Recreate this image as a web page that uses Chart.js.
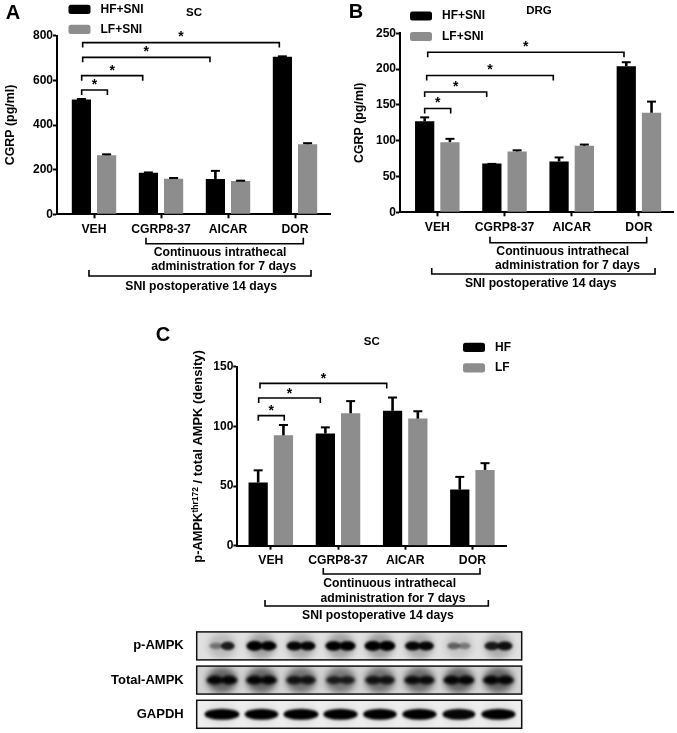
<!DOCTYPE html>
<html>
<head>
<meta charset="utf-8">
<script src="https://cdn.jsdelivr.net/npm/chart.js@4"></script>
<style>
html,body{margin:0;padding:0;background:#fff;width:677px;height:733px;overflow:hidden}
canvas{position:absolute;display:block}
</style>
</head>
<body>
<canvas id="panelA" style="left:0;top:0" width="340" height="300"></canvas>
<canvas id="panelB" style="left:340px;top:0" width="337" height="300"></canvas>
<canvas id="panelC" style="left:130px;top:320px" width="420" height="305"></canvas>
<canvas id="blots" style="left:110px;top:625px" width="420" height="108"></canvas>
<script>
// ---------- data ----------
const categories = ['VEH', 'CGRP8-37', 'AICAR', 'DOR'];

const scHF    = [514, 186, 158, 706];
const scHFTop = [521, 192, 199, 712];
const scLF    = [265, 159, 149, 314];
const scLFTop = [273, 167, 155, 323];

const drgHF    = [127, 68, 71, 204];
const drgHFTop = [134, 69, 78, 211];
const drgLF    = [98, 85, 93, 139];
const drgLFTop = [104, 88, 96, 156];

const ampkHF    = [53, 94, 113, 47];
const ampkHFTop = [64, 100, 125, 58.5];
const ampkLF    = [92.5, 111, 106.5, 63.5];
const ampkLFTop = [102, 122, 113.5, 70];

const blotRows = ['p-AMPK', 'Total-AMPK', 'GAPDH'];
// band darkness (left half, right half of each lane)
const pAmpkLeft   = [0.35, 1.00, 0.85, 0.95, 1.00, 0.85, 0.45, 0.75];
const pAmpkRight  = [0.75, 0.90, 0.85, 0.95, 1.00, 0.85, 0.35, 0.80];
const totalLeft   = [0.85, 0.85, 0.75, 0.70, 0.75, 0.80, 0.85, 0.85];
const totalRight  = [0.85, 0.85, 0.75, 0.70, 0.75, 0.80, 0.85, 0.85];
const gapdhLeft   = [1.00, 0.90, 1.00, 0.95, 0.90, 0.95, 0.85, 0.95];
const gapdhRight  = [1.00, 0.90, 1.00, 0.95, 0.90, 0.95, 0.85, 0.95];

// [from group, to group, axis value of the bracket]
const scSig   = [[-0.184, 0.2, 557], [-0.184, 0.727, 621], [-0.169, 1.731, 703], [-0.169, 2.766, 769]];
const drgSig  = [[-0.188, 0.199, 145], [-0.188, 0.735, 168], [-0.158, 1.726, 191], [-0.143, 2.778, 223.5]];
const ampkSig = [[-0.186, 0.2, 109], [-0.18, 0.737, 123.8], [-0.161, 1.725, 136]];

const treatLines = ['Continuous intrathecal', 'administration for 7 days'];
const surgeryLine = 'SNI postoperative 14 days';

// ---------- shared styles ----------
const BLACK = '#000000', GREY = '#8d8d8d';
const FONT = '"Liberation Sans", Arial, sans-serif';
const boldFont = (s) => ({ family: FONT, size: s, weight: 'bold' });

function pill(ctx, x, y, w, h) {
  ctx.beginPath();
  ctx.roundRect(x, y, w, h, 2.5);
  ctx.fill();
}
function text(ctx, s, x, y, size, align) {
  ctx.font = 'bold ' + size + 'px ' + FONT;
  ctx.fillStyle = '#000';
  ctx.textAlign = align || 'center';
  ctx.textBaseline = 'middle';
  ctx.fillText(s, x, y);
}
function bracket(ctx, x1, x2, y, leg) {
  ctx.strokeStyle = '#000';
  ctx.lineWidth = 1.6;
  ctx.lineCap = 'butt';
  ctx.lineJoin = 'miter';
  ctx.beginPath();
  ctx.moveTo(x1, y + leg);
  ctx.lineTo(x1, y);
  ctx.lineTo(x2, y);
  ctx.lineTo(x2, y + leg);
  ctx.stroke();
}

const errorBars = {
  id: 'errorBars',
  afterDatasetsDraw(chart) {
    const ctx = chart.ctx, ys = chart.scales.y;
    chart.data.datasets.forEach((ds, i) => {
      chart.getDatasetMeta(i).data.forEach((bar, j) => {
        const top = ys.getPixelForValue(ds.upper[j]);
        ctx.save();
        ctx.strokeStyle = '#000';
        ctx.lineWidth = 2.6;
        ctx.beginPath();
        ctx.moveTo(bar.x, bar.y);
        ctx.lineTo(bar.x, top + 1);
        ctx.stroke();
        ctx.lineWidth = 2;
        ctx.beginPath();
        ctx.moveTo(bar.x - 4.5, top + 1);
        ctx.lineTo(bar.x + 4.5, top + 1);
        ctx.stroke();
        ctx.restore();
      });
    });
  }
};

const annotations = {
  id: 'annotations',
  afterDraw(chart, args, o) {
    const ctx = chart.ctx, xs = chart.scales.x, ys = chart.scales.y, b = chart.chartArea.bottom;
    const X = (v) => xs.getPixelForValue(v);
    ctx.save();
    text(ctx, o.letter, o.letterAt[0], o.letterAt[1], 20);
    text(ctx, o.title, o.titleAt[0], o.titleAt[1], 11.5);
    chart.data.datasets.forEach((ds, i) => {
      const l = o.legend;
      const cy = l.y[i];
      ctx.fillStyle = ds.backgroundColor;
      pill(ctx, l.x, cy - 4.6, 22, 9.2);
      text(ctx, ds.label, l.x + 32, cy, 12, 'left');
    });
    o.sig.forEach((s, i) => {
      const y = ys.getPixelForValue(s[2]);
      bracket(ctx, X(s[0]), X(s[1]), y, 5);
      text(ctx, '*', (X(s[0]) + X(s[1])) / 2, y - o.starGap, 14);
    });
    const g = o.under;
    bracket(ctx, X(g.treat[0]), X(g.treat[1]), b + g.treat[2], -6);
    bracket(ctx, X(g.sni[0]), X(g.sni[1]), b + g.sni[2], -6);
    text(ctx, treatLines[0], X(g.line1[0]), b + g.line1[1], 12.2);
    text(ctx, treatLines[1], X(g.line2[0]), b + g.line2[1], 12.2);
    text(ctx, surgeryLine, X(g.line3[0]), b + g.line3[1], 12.2);
    if (o.richTitle) {
      const t = o.richTitle;
      ctx.translate(t.x, t.y);
      ctx.rotate(-Math.PI / 2);
      ctx.textBaseline = 'alphabetic';
      ctx.textAlign = 'left';
      ctx.fillStyle = '#000';
      ctx.font = 'bold 12.9px ' + FONT;
      const a = 'p-AMPK', c = ' / total AMPK (density)';
      const wa = ctx.measureText(a).width, wc = ctx.measureText(c).width;
      ctx.font = 'bold 8.5px ' + FONT;
      const wb = ctx.measureText('thr172').width;
      let px = -(wa + wb + wc) / 2;
      ctx.font = 'bold 12.9px ' + FONT;
      ctx.fillText(a, px, 4); px += wa;
      ctx.font = 'bold 8.5px ' + FONT;
      ctx.fillText('thr172', px, 0); px += wb;
      ctx.font = 'bold 12.9px ' + FONT;
      ctx.fillText(c, px, 4);
    }
    ctx.restore();
  }
};

function barPanel(id, c) {
  const box = c.box, p = c.plot;
  const pad = { left: 0, top: p.top - box.y, right: box.x + box.w - p.right, bottom: 0 };
  return new Chart(document.getElementById(id), {
    type: 'bar',
    data: {
      datasets: [
        { label: c.names[0], data: c.hf.map((v, i) => ({ x: i, y: v })), upper: c.hfTop, backgroundColor: BLACK, categoryPercentage: 0.752, barPercentage: 0.762, borderWidth: 0 },
        { label: c.names[1], data: c.lf.map((v, i) => ({ x: i, y: v })), upper: c.lfTop, backgroundColor: GREY, categoryPercentage: 0.752, barPercentage: 0.762, borderWidth: 0 }
      ]
    },
    plugins: [errorBars, annotations],
    options: {
      responsive: false,
      animation: false,
      events: [],
      layout: { padding: pad },
      plugins: { legend: { display: false }, tooltip: { enabled: false }, annotations: c.notes },
      scales: {
        x: {
          type: 'linear',
          bounds: 'data',
          offset: false,
          min: (p.left - c.c0) / c.d,
          max: (p.right - c.c0) / c.d,
          afterBuildTicks: (s) => { s.ticks = categories.map((_, i) => ({ value: i })); },
          afterFit: (s) => { s.height = box.y + box.h - p.bottom; },
          border: { color: '#000', width: 2 },
          grid: { offset: false, drawOnChartArea: false, drawTicks: true, tickLength: 4, tickWidth: 2, tickColor: '#000', color: '#000' },
          ticks: { autoSkip: false, maxRotation: 0, padding: 4, color: '#000', font: boldFont(12.2), callback: (v) => categories[v] }
        },
        y: {
          min: 0, max: c.max,
          afterFit: (s) => { s.width = p.left - box.x; },
          border: { color: '#000', width: 2 },
          title: c.yTitle ? { display: true, text: c.yTitle, color: '#000', font: boldFont(12.4), padding: { top: c.yTitlePad, bottom: 0 } } : { display: false },
          grid: { drawOnChartArea: false, drawTicks: true, tickLength: 4, tickWidth: 2, tickColor: '#000', color: '#000' },
          ticks: { stepSize: c.step, padding: 0, color: '#000', font: boldFont(12) }
        }
      }
    }
  });
}

barPanel('panelA', {
  box: { x: 0, y: 0, w: 340, h: 300 },
  plot: { left: 57, right: 330, top: 35.7, bottom: 214.3 },
  c0: 94, d: 67, max: 800, step: 200,
  hf: scHF, hfTop: scHFTop, lf: scLF, lfTop: scLFTop,
  names: ['HF+SNI', 'LF+SNI'],
  yTitle: 'CGRP (pg/ml)', yTitlePad: 3.5,
  notes: {
    letter: 'A', letterAt: [13, 13], title: 'SC', titleAt: [194, 13],
    legend: { x: 68.5, y: [9.3, 29.3] },
    sig: scSig, starGap: 5,
    under: { treat: [0.776, 3.124, 29.4], sni: [-0.075, 3.239, 61.7], line1: [1.881, 38.2], line2: [1.936, 52.2], line3: [1.6, 72.2] }
  }
});

barPanel('panelB', {
  box: { x: 340, y: 0, w: 337, h: 300 },
  plot: { left: 400, right: 673, top: 33.3, bottom: 212.3 },
  c0: 437.3, d: 67.2, max: 250, step: 50,
  hf: drgHF, hfTop: drgHFTop, lf: drgLF, lfTop: drgLFTop,
  names: ['HF+SNI', 'LF+SNI'],
  yTitle: 'CGRP (pg/ml)', yTitlePad: 12.5,
  notes: {
    letter: 'B', letterAt: [16, 12.7], title: 'DRG', titleAt: [199, 10.7],
    legend: { x: 70, y: [16, 36.5] },
    sig: drgSig, starGap: 5,
    under: { treat: [0.784, 3.116, 30.4], sni: [-0.083, 3.24, 61.7], line1: [1.866, 38.9], line2: [1.938, 53.2], line3: [1.54, 71.5] }
  }
});

barPanel('panelC', {
  box: { x: 130, y: 320, w: 420, h: 305 },
  plot: { left: 237.3, right: 506, top: 366.7, bottom: 545.7 },
  c0: 270.8, d: 67.2, max: 150, step: 50,
  hf: ampkHF, hfTop: ampkHFTop, lf: ampkLF, lfTop: ampkLFTop,
  names: ['HF', 'LF'],
  notes: {
    letter: 'C', letterAt: [33, 15.7], title: 'SC', titleAt: [241.7, 22],
    legend: { x: 333, y: [27.3, 47.8] },
    sig: ampkSig, starGap: 4,
    under: { treat: [0.781, 3.113, 28.3], sni: [-0.086, 3.237, 60.3], line1: [1.769, 38.1], line2: [1.818, 52.5], line3: [1.595, 69.8] },
    richTitle: { x: 68, y: 136.5 }
  }
});

// ---------- western blots: one dataset per row, one point per lane ----------
const rowLook = [
  { bg: '#e0e0e0', w: 28, h: 5, blur: 1.3, haze: 0.30, lobes: 2 },
  { bg: '#d2d2d2', w: 30, h: 4.8, blur: 1.4, haze: 0.62, lobes: 2 },
  { bg: '#eeeeee', w: 35, h: 5.6, blur: 0.9, haze: 0.05, lobes: 1 }
];
function bandImage(row, left, right) {
  const look = rowLook[row];
  const density = (left + right) / 2;
  const cv = document.createElement('canvas');
  cv.width = 40; cv.height = 28;
  const g = cv.getContext('2d');
  const cx = 20, cy = 14;
  g.filter = 'blur(3px)';
  g.fillStyle = 'rgba(0,0,0,' + (look.haze * density) + ')';
  g.beginPath();
  g.ellipse(cx, cy, look.w * 0.5, 13, 0, 0, Math.PI * 2);
  g.fill();
  g.filter = 'blur(' + look.blur + 'px)';
  const w = look.w * (0.6 + 0.4 * density);
  if (look.lobes === 2) {
    [[-0.25, left], [0.25, right]].forEach(([off, d]) => {
      g.fillStyle = 'rgba(0,0,0,' + Math.min(1, d * 1.15) + ')';
      g.beginPath();
      g.ellipse(cx + w * off, cy, w * 0.3, look.h * (0.45 + 0.55 * d), 0, 0, Math.PI * 2);
      g.fill();
    });
  } else {
    g.fillStyle = 'rgba(0,0,0,' + Math.min(1, density * 1.15) + ')';
    g.beginPath();
    g.ellipse(cx, cy, w * 0.5, look.h, 0, 0, Math.PI * 2);
    g.fill();
  }
  return cv;
}
const rowLeft = [pAmpkLeft, totalLeft, gapdhLeft];
const rowRight = [pAmpkRight, totalRight, gapdhRight];
const blotFrames = {
  id: 'blotFrames',
  beforeDatasetsDraw(chart) {
    const ctx = chart.ctx, ys = chart.scales.y, a = chart.chartArea;
    rowLook.forEach((look, r) => {
      const y = ys.getPixelForValue(r);
      ctx.fillStyle = look.bg;
      ctx.fillRect(a.left, y - 14, a.right - a.left, 28);
    });
  },
  afterDatasetsDraw(chart) {
    const ctx = chart.ctx, ys = chart.scales.y, a = chart.chartArea;
    ctx.strokeStyle = '#111';
    ctx.lineWidth = 1.5;
    rowLook.forEach((look, r) => {
      const y = ys.getPixelForValue(r);
      ctx.strokeRect(a.left, y - 14, a.right - a.left, 28);
    });
  }
};
new Chart(document.getElementById('blots'), {
  type: 'scatter',
  data: {
    datasets: rowLeft.map((vals, r) => ({
      label: blotRows[r],
      data: vals.map((v, i) => ({ x: i + 1, y: r })),
      pointRadius: 10,
      pointStyle: vals.map((v, i) => bandImage(r, v, rowRight[r][i]))
    }))
  },
  plugins: [blotFrames],
  options: {
    responsive: false,
    animation: false,
    events: [],
    layout: { autoPadding: false, padding: { left: 0, top: 6.7, right: 8.3, bottom: 4.7 } },
    plugins: { legend: { display: false }, tooltip: { enabled: false } },
    scales: {
      x: {
        type: 'linear', display: false,
        bounds: 'data',
        min: 0.36, max: 8.59,
        afterFit: (s) => { s.height = 0; }
      },
      y: {
        type: 'linear', reverse: true,
        bounds: 'data',
        min: -0.415, max: 2.41,
        afterBuildTicks: (s) => { s.ticks = blotRows.map((_, i) => ({ value: i })); },
        afterFit: (s) => { s.width = 86.7; s.paddingTop = 0; s.paddingBottom = 0; },
        border: { display: false },
        grid: { display: false },
        ticks: { padding: 5, color: '#000', font: boldFont(13), callback: (v) => blotRows[v] }
      }
    }
  }
});
</script>
</body>
</html>
